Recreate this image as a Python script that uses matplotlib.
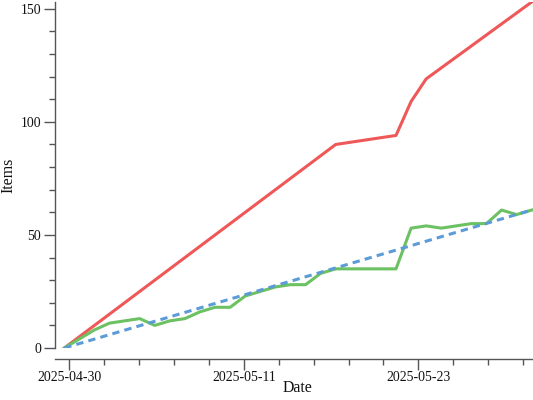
import numpy as np
import pandas as pd
import matplotlib as mpl
mpl.use('Agg')
import matplotlib.pyplot as plt
from matplotlib.ticker import MultipleLocator, FuncFormatter

# data (one point per day, gap 05-19..05-21)
green_dates = ['2025-04-30', '2025-05-01', '2025-05-02', '2025-05-03', '2025-05-04',
               '2025-05-05', '2025-05-06', '2025-05-07', '2025-05-08', '2025-05-09',
               '2025-05-10', '2025-05-11', '2025-05-12', '2025-05-13', '2025-05-14',
               '2025-05-15', '2025-05-16', '2025-05-17', '2025-05-18',
               '2025-05-22', '2025-05-23', '2025-05-24', '2025-05-25', '2025-05-26',
               '2025-05-27', '2025-05-28', '2025-05-29', '2025-05-30', '2025-05-31']
green_vals = [0, 4, 8, 11, 12, 13, 10, 12, 13, 16, 18, 18, 23, 25, 27, 28, 28, 33, 35,
              35, 53, 54, 53, 54, 55, 55, 61, 59, 61]

red_dates = ['2025-04-30', '2025-05-18', '2025-05-22', '2025-05-23', '2025-05-24', '2025-05-31']
red_vals = [0, 90, 94, 109, 119, 153]

blue_dates = ['2025-04-30', '2025-05-31']
blue_vals = [0, 61]

y_major = [0, 50, 100, 150]


def to_ms(dates):
	# x axis is linear in epoch milliseconds
	d = pd.to_datetime(dates)
	return np.array((d - pd.Timestamp('1970-01-01')) // pd.Timedelta('1ms'), dtype=float)


red_x = to_ms(red_dates)
green_x = to_ms(green_dates)
blue_x = to_ms(blue_dates)

# plot settings
plt.rcParams['font.family'] = 'serif'
plt.rcParams['font.serif'] = ['Liberation Serif', 'DejaVu Serif']
fs_tick = 9.9
fs_lab = 11.4
lw = 2.2
spine_c = '#555555'

fig = plt.figure(figsize=(5.33, 4.0), dpi=100)
ax = fig.add_axes([55 / 533, 52 / 400, 486 / 533, 346 / 400])

ax.plot(red_x, red_vals, color='#ef5858', lw=lw, zorder=2)
ax.plot(green_x, green_vals, color='#6cc162', lw=lw, zorder=3)
ax.plot(blue_x, blue_vals, color='#5b9bd8', lw=lw, dashes=(2.4, 1.7), zorder=4)

pad = 0.617 * 86400000
ax.set_xlim(green_x[0] - pad, green_x[-1] + pad)
ax.set_ylim(0, 153)

ax.xaxis.set_major_locator(MultipleLocator(1e9))
ax.xaxis.set_minor_locator(MultipleLocator(2e8))
ax.xaxis.set_major_formatter(FuncFormatter(lambda v, p: pd.Timestamp(v, unit='ms').strftime('%Y-%m-%d')))
ax.set_yticks(y_major)
ax.yaxis.set_minor_locator(MultipleLocator(10))

for s in ['top', 'right']:
	ax.spines[s].set_visible(False)
for s in ['left', 'bottom']:
	ax.spines[s].set_color(spine_c)
	ax.spines[s].set_linewidth(1.0)
ax.spines['bottom'].set_position(('outward', 8))

ax.tick_params(which='major', length=7.6, width=1.0, color=spine_c, labelsize=fs_tick, labelcolor='#111111')
ax.tick_params(which='minor', length=4.0, width=1.0, color=spine_c)
ax.tick_params(axis='x', which='major', pad=1.2)
ax.tick_params(axis='y', which='major', pad=2.4)

ax.set_xlabel('Date', fontsize=fs_lab, color='#111111', va='center')
ax.xaxis.set_label_coords(0.5, -40 / 346)
ax.set_ylabel('Items', fontsize=fs_lab, color='#111111', va='center')
ax.yaxis.set_label_coords(-47 / 486, 0.5)

plt.savefig('out.png', dpi=100)
plt.close()
